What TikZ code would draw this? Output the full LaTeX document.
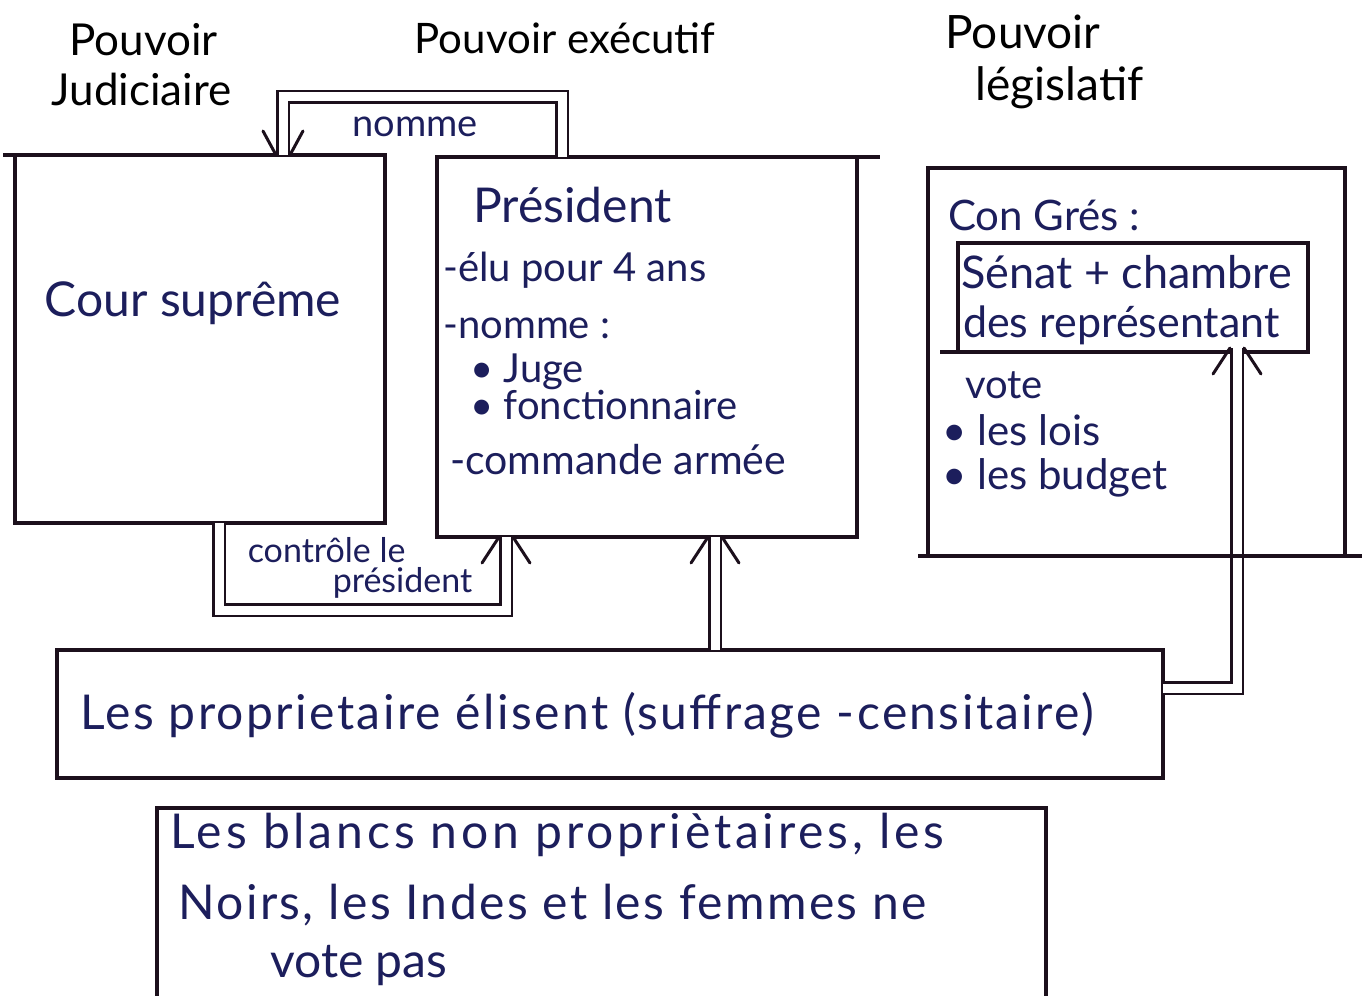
\documentclass[tikz,border=0pt]{standalone}
\usepackage{fontspec}
\setmainfont{Lato}
\usetikzlibrary{arrows.meta,calc}
\definecolor{ink}{RGB}{28,30,92}
\definecolor{pen}{RGB}{28,16,28}
\newcommand\chevup[1]{\draw[wing] ($(#1)+(-7,0)$) -- ($(#1)+(-24,26)$); \draw[wing] ($(#1)+(7,0)$) -- ($(#1)+(24,26)$);}
\newcommand\chevdown[1]{\draw[wing] ($(#1)+(-7,0)$) -- ($(#1)+(-20,-24)$); \draw[wing] ($(#1)+(7,0)$) -- ($(#1)+(20,-24)$);}
\begin{document}
\begin{tikzpicture}[x=1pt,y=-1pt,
  frame/.style={draw=pen, line width=3.2pt, rectangle, inner sep=0pt, outer sep=0pt},
  edge/.style={draw=pen, line width=3.2pt},
  wing/.style={draw=pen, line width=3pt, line cap=round},
  dbl/.style={draw=pen, line width=2.8pt, double=white, double distance=9pt},
  head/.style={text=black, align=left, anchor=west, font=\fontsize{44}{50}\selectfont},
  txt/.style={text=ink, anchor=west, inner sep=0pt, font=\fontsize{40}{46}\selectfont},
  big/.style={text=ink, font=\fontsize{48}{56}\selectfont},
  lab/.style={text=ink, inner sep=0pt, font=\fontsize{38}{44}\selectfont}]
\clip (0,0) rectangle (1364,995);
\useasboundingbox (0,0) rectangle (1364,995);
\fill[white] (0,0) rectangle (1364,995);

% headers
\node[head] (hj) at (48,65) {\hspace*{18pt}Pouvoir\\Judiciaire};
\node[head, anchor=center, font=\fontsize{42}{48}\selectfont] (he) at (565,38) {Pouvoir exécutif};
\node[head, font=\fontsize{46}{52}\selectfont] (hl) at (942,62) {Pouvoir\\\hspace*{30pt}législatif};

% boxes
\node[frame, minimum width=370pt, minimum height=368pt] (cour) at (200,339) {};
\node[frame, minimum width=420pt, minimum height=380pt] (pres) at (647,347) {};
\node[frame, minimum width=1106pt, minimum height=128pt] (prop) at (610,714) {};
\node[frame, minimum width=889pt, minimum height=200pt] (nv) at (601.5,908) {};
\node[frame, minimum width=350pt, minimum height=109pt] (senat) at (1133,297.5) {};

\draw[edge] (cour.north west) -- ++(-12,0);
\draw[edge] (pres.north east) -- ++(23,0);
\draw[edge] (senat.south west) -- ++(-18,0);

% texts
\node[big] (tcour) at (193,303) {Cour suprême};
\node[txt, font=\fontsize{48}{54}\selectfont] (p1) at (473,205) {Président};
\node[txt] (p2) at (443,270) {-élu pour 4 ans};
\node[txt] (p3) at (443,328) {-nomme :};
\node[txt] (p4) at (470,372) {\textbullet\ Juge};
\node[txt] (p5) at (470,405) {\textbullet\ fonctionnaire};
\node[txt, font=\fontsize{41}{46}\selectfont] (p6) at (450,460) {-commande armée};

\node[txt, font=\fontsize{42}{48}\selectfont] (c1) at (948,215) {Con Grés :};
\node[txt, font=\fontsize{45}{50}\selectfont] (s1) at (961,272) {Sénat + chambre};
\node[txt, font=\fontsize{43}{48}\selectfont] (s2) at (963,325) {des représentant};
\node[txt] (v1) at (965,385) {vote};
\node[txt, font=\fontsize{42}{48}\selectfont] (v2) at (942,430) {\textbullet\ les lois};
\node[txt, font=\fontsize{42}{48}\selectfont] (v3) at (942,478) {\textbullet\ les budget};

\node[txt, font=\fontsize{48}{54}\selectfont\addfontfeatures{LetterSpace=5}] (t1) at (80,715) {Les proprietaire élisent (suffrage -censitaire)};
\node[txt, font=\fontsize{48}{54}\selectfont\addfontfeatures{LetterSpace=8}] (n1) at (170,835) {Les blancs non propriètaires, les};
\node[txt, font=\fontsize{48}{54}\selectfont\addfontfeatures{LetterSpace=5}] (n2) at (178,905) {Noirs, les Indes et les femmes ne};
\node[txt, font=\fontsize{48}{54}\selectfont] (n3) at (270,965) {vote pas};

\node[lab] (lnomme) at (415,127) {nomme};
\node[lab, align=left, font=\fontsize{34}{30}\selectfont] (lctl) at (360,568) {contrôle le\\\hspace*{85pt}président};

% connectors
\coordinate (nmTop) at (283,97);
\coordinate (e1) at (nmTop |- cour.north);
\draw[dbl] ([xshift=125pt]pres.north west) |- (nmTop) -- (e1);
\chevdown{e1}
\coordinate (ctBot) at (506,610);
\coordinate (e2) at (ctBot |- pres.south);
\draw[dbl] ([xshift=204pt]cour.south west) |- (ctBot) -- (e2);
\chevup{e2}
\coordinate (e3) at ([xshift=105pt]prop.north |- pres.south);
\draw[dbl] ([xshift=105pt]prop.north) -- (e3);
\chevup{e3}
\coordinate (vtCorner) at (1237,688);
\coordinate (e4) at ([yshift=4pt]vtCorner |- senat.south);
\draw[dbl] (prop.east |- vtCorner) -| (e4);
\chevup{e4}

% congress frame drawn last so its lines cross the connector
\node[frame, minimum width=417pt, minimum height=388pt] (cong) at (1136.5,362) {};
\draw[edge] (cong.south west) -- ++(-10,0);
\draw[edge] (cong.south east) -- ++(17,0);
\end{tikzpicture}
\end{document}
